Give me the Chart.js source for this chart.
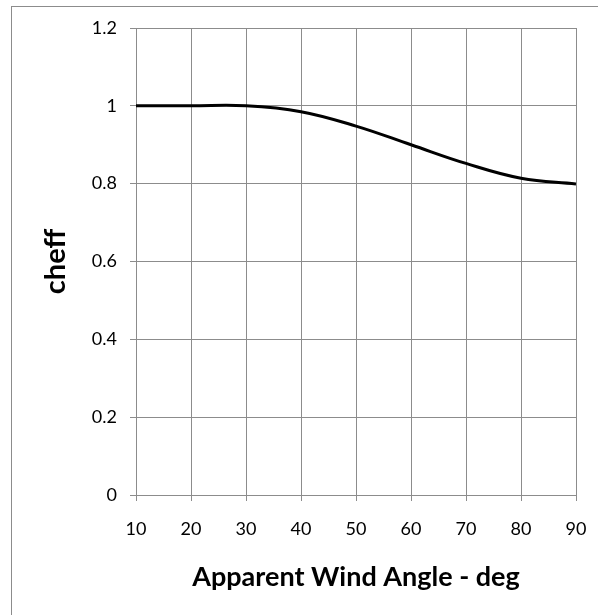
<!DOCTYPE html>
<html>
<head>
<meta charset="utf-8">
<script src="https://cdn.jsdelivr.net/npm/chart.js@4.4.1/dist/chart.umd.min.js"></script>
<style>
  html, body { margin: 0; padding: 0; background: #fff; overflow: hidden; }
  #wrap { position: relative; width: 598px; height: 615px; }
  #frame { position: absolute; left: 11px; top: 6px; width: 620px; height: 640px;
           border-left: 1px solid #8c8c8c; border-top: 1px solid #8c8c8c; }
  canvas { position: absolute; left: 0; top: 0; }
</style>
</head>
<body>
<div id="wrap">
  <div id="frame"></div>
  <canvas id="chart" width="598" height="615"></canvas>
</div>
<script>
// apparent wind angle (deg) vs cheff
const angles = [10, 20, 30, 40, 50, 60, 70, 80, 90];
const cheff = [1.0, 1.0, 1.0, 0.985, 0.948, 0.900, 0.852, 0.814, 0.799];
const xTicks = ['10', '20', '30', '40', '50', '60', '70', '80', '90'];
const yTicks = ['0', '0.2', '0.4', '0.6', '0.8', '1', '1.2'];

const FONT = 'Lato, "Open Sans", sans-serif';
const GRID = '#8c8c8c';

const points = angles.map((a, i) => ({ x: a, y: cheff[i] }));

new Chart(document.getElementById('chart'), {
    type: 'line',
    data: {
        datasets: [{
            label: 'cheff',
            data: points,
            borderColor: '#000',
            borderWidth: 3,
            pointRadius: 0,
            tension: 0.4,
            fill: false
        }]
    },
    options: {
        responsive: false,
        animation: false,
        layout: { padding: { left: 0, top: 28, right: 22, bottom: 0 } },
        plugins: { legend: { display: false }, tooltip: { enabled: false } },
        scales: {
            x: {
                type: 'linear',
                min: 10,
                max: 90,
                afterFit: (s) => { s.height = 120; s.paddingLeft = 0; s.paddingRight = 0; },
                afterBuildTicks: (s) => { s.ticks = xTicks.map(t => ({ value: Number(t) })); },
                ticks: {
                    callback: (v) => xTicks[xTicks.indexOf(String(v))],
                    color: '#000',
                    font: { family: FONT, size: 18 },
                    padding: 17,
                    maxRotation: 0
                },
                grid: { color: GRID, lineWidth: 1, tickLength: 6 },
                border: { color: GRID },
                title: {
                    display: true,
                    text: 'Apparent Wind Angle - deg',
                    color: '#000',
                    font: { family: FONT, size: 27, weight: 'bold' },
                    padding: { top: 0, bottom: 22 }
                }
            },
            y: {
                min: 0,
                max: 1.2,
                afterFit: (s) => { s.width = 136; },
                afterBuildTicks: (s) => { s.ticks = yTicks.map(t => ({ value: Number(t) })); },
                ticks: {
                    callback: (v) => yTicks.find(t => Math.abs(Number(t) - v) < 1e-9),
                    color: '#000',
                    font: { family: FONT, size: 18 },
                    padding: 13
                },
                grid: { color: GRID, lineWidth: 1, tickLength: 6 },
                border: { color: GRID },
                title: {
                    display: true,
                    text: 'cheff',
                    color: '#000',
                    font: { family: FONT, size: 29, weight: 'bold' },
                    padding: { top: 38, bottom: 0 }
                }
            }
        }
    }
});
</script>
</body>
</html>
